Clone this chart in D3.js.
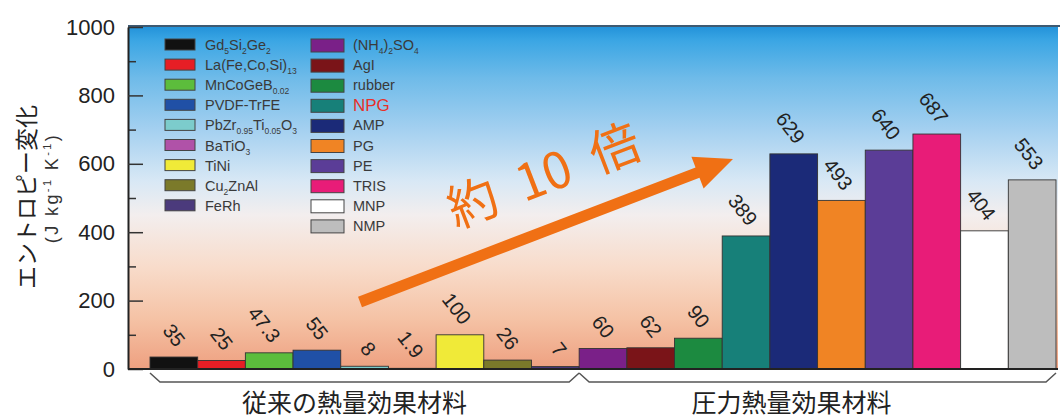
<!DOCTYPE html>
<html>
<head>
<meta charset="utf-8">
<script src="https://cdn.jsdelivr.net/npm/d3@7"></script>
<style>
  body { margin: 0; background: #fff; }
  svg { display: block; font-family: "Liberation Sans", Arial, sans-serif; }
  .jp { font-family: "Noto Sans CJK JP", sans-serif; }
</style>
</head>
<body>
<svg id="chart" width="1060" height="419"></svg>
<script>
const materials = [
  "Gd_{5}Si_{2}Ge_{2}", "La(Fe,Co,Si)_{13}", "MnCoGeB_{0.02}", "PVDF-TrFE",
  "PbZr_{0.95}Ti_{0.05}O_{3}", "BaTiO_{3}", "TiNi", "Cu_{2}ZnAl", "FeRh",
  "(NH_{4})_{2}SO_{4}", "AgI", "rubber", "NPG", "AMP", "PG", "PE", "TRIS", "MNP", "NMP"
];
const entropy = [35, 25, 47.3, 55, 8, 1.9, 100, 26, 7, 60, 62, 90, 389, 629, 493, 640, 687, 404, 553];
const barColors = [
  "#111111", "#e61e25", "#5cbd3c", "#2050a6", "#7ccccc", "#b052a8", "#f0ea38", "#7b7a2a", "#4b3a7c",
  "#7a2088", "#7a1418", "#1c8a40", "#178079", "#1b2a78", "#f08424", "#5b3d97", "#e81c78", "#ffffff", "#bdbdbd"
];
const groupNames = ["従来の熱量効果材料", "圧力熱量効果材料"];
const groupSizes = [9, 10];
const majorTicks = [0, 200, 400, 600, 800, 1000];
const minorTicks = [100, 300, 500, 700, 900];

const svg = d3.select("#chart");
const plot = { left: 128, right: 1058, top: 27, bottom: 369 };

const x = d3.scaleBand().domain(materials).range([150, 1056]).padding(0);
const y = d3.scaleLinear().domain([0, 1000]).range([plot.bottom, plot.top]);

// background gradient
const defs = svg.append("defs");
const grad = defs.append("linearGradient").attr("id", "bg")
  .attr("x1", 0).attr("y1", 0).attr("x2", 0).attr("y2", 1);
[[0, "#2393da"], [0.04, "#3ba6e4"], [0.15, "#6fbbe9"], [0.3, "#a4d0f0"],
 [0.45, "#d8e8f5"], [0.55, "#f3eeee"], [0.7, "#f8dccb"], [0.85, "#f5c3a6"], [1, "#eea080"]]
  .forEach(([o, c]) => grad.append("stop").attr("offset", o).attr("stop-color", c));

svg.append("rect")
  .attr("x", plot.left).attr("y", plot.top)
  .attr("width", plot.right - plot.left).attr("height", plot.bottom - plot.top)
  .attr("fill", "url(#bg)");

svg.append("line")
  .attr("x1", plot.left).attr("x2", 1060)
  .attr("y1", plot.top - 1).attr("y2", plot.top - 1)
  .attr("stroke", "#3e5a72").attr("stroke-width", 2);

// subscript text helper: "_{..}" parts become lowered tspans
function richText(sel, str, size, subSize) {
  let shift = 0;
  str.split(/(_\{[^}]*\})/).filter((s) => s).forEach((part) => {
    const isSub = part.startsWith("_{");
    const target = isSub ? 4 : 0;
    sel.append("tspan")
      .attr("font-size", isSub ? subSize : size)
      .attr("dy", target - shift)
      .text(isSub ? part.slice(2, -1) : part);
    shift = target;
  });
}

// bars
svg.append("g").selectAll("rect")
  .data(materials)
  .join("rect")
  .attr("x", (d) => x(d))
  .attr("y", (d, i) => y(entropy[i]))
  .attr("width", x.bandwidth())
  .attr("height", (d, i) => y(0) - y(entropy[i]))
  .attr("fill", (d, i) => barColors[i])
  .attr("stroke", "#333")
  .attr("stroke-width", 0.9);

// value labels
svg.append("g").selectAll("text")
  .data(materials)
  .join("text")
  .attr("text-anchor", "end")
  .attr("dy", "0.35em")
  .attr("font-size", 20)
  .attr("fill", "#222")
  .attr("transform", (d, i) =>
    `translate(${x(d) + x.bandwidth() / 2 + 7},${y(entropy[i]) - 13}) rotate(52)`)
  .text((d, i) => entropy[i]);

// axes
svg.append("g")
  .attr("transform", `translate(${plot.left},0)`)
  .call(d3.axisLeft(y).tickValues(minorTicks).tickSize(-8).tickFormat(""))
  .call((g) => g.select(".domain").remove())
  .call((g) => g.selectAll(".tick line").attr("stroke", "#333").attr("stroke-width", 1.5));

svg.append("g")
  .attr("transform", `translate(${plot.left},0)`)
  .call(d3.axisLeft(y).tickValues(majorTicks).tickFormat(d3.format("d"))
    .tickSize(-15).tickPadding(13).tickSizeOuter(0))
  .call((g) => g.select(".domain").attr("stroke", "#222").attr("stroke-width", 2))
  .call((g) => g.selectAll(".tick line").attr("stroke", "#333").attr("stroke-width", 1.5))
  .call((g) => g.selectAll(".tick text")
    .attr("font-size", 22).attr("fill", "#222")
    .attr("font-family", "Liberation Sans, Arial, sans-serif"));

svg.append("line")
  .attr("x1", plot.left).attr("x2", plot.right)
  .attr("y1", plot.bottom).attr("y2", plot.bottom)
  .attr("stroke", "#222").attr("stroke-width", 2);

// y axis title
svg.append("text")
  .attr("class", "jp")
  .attr("transform", "translate(27,197) rotate(-90)")
  .attr("text-anchor", "middle")
  .attr("dy", "0.35em")
  .attr("font-size", 23)
  .attr("fill", "#222")
  .text("エントロピー変化");

const unit = svg.append("text")
  .attr("transform", "translate(52,188) rotate(-90)")
  .attr("text-anchor", "middle")
  .attr("dy", "0.35em")
  .attr("font-size", 18)
  .attr("letter-spacing", 2.4)
  .attr("fill", "#333");
unit.append("tspan").attr("font-size", 18).text("(J kg");
unit.append("tspan").attr("font-size", 11).attr("dy", -7).text("-1");
unit.append("tspan").attr("font-size", 18).attr("dy", 7).text(" K");
unit.append("tspan").attr("font-size", 11).attr("dy", -7).text("-1");
unit.append("tspan").attr("font-size", 18).attr("dy", 7).text(")");

// legend
const legend = svg.append("g").selectAll("g")
  .data(materials)
  .join("g")
  .attr("transform", (d, i) => {
    const col = i < groupSizes[0] ? 0 : 1;
    const row = col ? i - groupSizes[0] : i;
    return `translate(${col ? 311 : 165},${45 + row * 20.1})`;
  });

legend.append("rect")
  .attr("x", 0).attr("y", -6)
  .attr("width", (d, i) => (i < groupSizes[0] ? 30 : 33))
  .attr("height", (d, i) => (i < groupSizes[0] ? 11 : 13))
  .attr("fill", (d, i) => barColors[i])
  .attr("stroke", "#444")
  .attr("stroke-width", 1);

legend.append("text")
  .attr("x", (d, i) => (i < groupSizes[0] ? 40 : 42))
  .attr("y", (d) => (d === "NPG" ? 6 : 5))
  .attr("font-size", (d) => (d === "NPG" ? 17 : 14.5))
  .attr("fill", (d) => (d === "NPG" ? "#e8302a" : "#3a3a3a"))
  .each(function (d) {
    richText(d3.select(this), d, d === "NPG" ? 17 : 14.5, 8.5);
  });

// braces and group labels
let start = 0;
groupSizes.forEach((n, gi) => {
  const x0 = x(materials[start]);
  const x1 = x(materials[start + n - 1]) + x.bandwidth();
  const yTop = plot.bottom + 4, yBot = plot.bottom + 13;
  const path = d3.path();
  path.moveTo(x0, yTop);
  path.lineTo(x0 + 10, yBot);
  const mid = (x0 + x1) / 2;
  path.lineTo(x1 - 10, yBot);
  path.lineTo(x1, yTop);
  svg.append("path")
    .attr("d", path.toString())
    .attr("fill", "none")
    .attr("stroke", "#555")
    .attr("stroke-width", 1.5);
  svg.append("text")
    .attr("class", "jp")
    .attr("x", mid - (gi === 0 ? 10 : 26))
    .attr("y", 412)
    .attr("text-anchor", "middle")
    .attr("font-size", 25)
    .attr("fill", "#222")
    .text(groupNames[gi]);
  start += n;
});

// arrow annotation
const tail = [360, 302], tip = [733, 159];
const ang = Math.atan2(tip[1] - tail[1], tip[0] - tail[0]);
const len = Math.hypot(tip[0] - tail[0], tip[1] - tail[1]);
const headLen = 38, headW = 17, shaftW = 5.5;
svg.append("path")
  .attr("transform", `translate(${tail[0]},${tail[1]}) rotate(${ang * 180 / Math.PI})`)
  .attr("d", `M0,${-shaftW} L${len - headLen},${-shaftW} L${len - headLen},${-headW}
    L${len},0 L${len - headLen},${headW} L${len - headLen},${shaftW} L0,${shaftW} Z`)
  .attr("fill", "#f07014");

svg.append("text")
  .attr("class", "jp")
  .attr("transform", `translate(544,176) rotate(${ang * 180 / Math.PI})`)
  .attr("text-anchor", "middle")
  .attr("dy", "0.35em")
  .attr("font-size", 50)
  .attr("word-spacing", 12)
  .attr("fill", "#f07014")
  .text("約 10 倍");
</script>
</body>
</html>
